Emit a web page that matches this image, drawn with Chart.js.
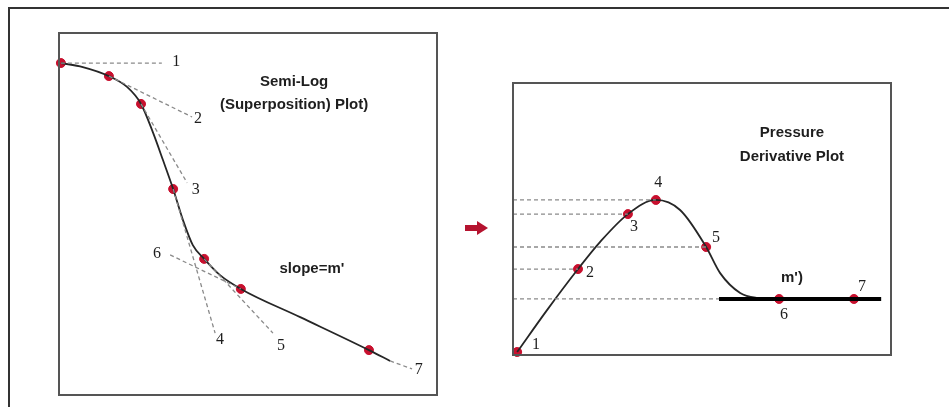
<!DOCTYPE html>
<html>
<head>
<meta charset="utf-8">
<script src="https://cdn.jsdelivr.net/npm/chart.js"></script>
<style>
  html, body { margin:0; padding:0; background:#fff; }
  body { width:949px; height:407px; position:relative; overflow:hidden; }
  #frame { position:absolute; left:8px; top:7px; width:941px; height:400px; border-top:2px solid #333; border-left:2px solid #333; }
  #leftWrap { position:absolute; left:0; top:0; width:470px; height:407px; }
  #rightWrap { position:absolute; left:470px; top:0; width:479px; height:407px; }
  #arrow { position:absolute; left:465px; top:222px; width:24px; height:12px; }
  #arrow .shaft { position:absolute; left:0; top:3px; width:13px; height:6px; background:#b5132f; }
  #arrow .head { position:absolute; left:12px; top:-1px; width:0; height:0; border-top:7px solid transparent; border-bottom:7px solid transparent; border-left:11px solid #b5132f; }
</style>
</head>
<body>
<div id="frame"></div>
<div id="leftWrap"><canvas id="semiLogChart" width="470" height="407"></canvas></div>
<div id="arrow"><div class="shaft"></div><div class="head"></div></div>
<div id="rightWrap"><canvas id="derivChart" width="479" height="407"></canvas></div>
<script>
// ---- semi-log (superposition) plot ----
const semiLogX = [0.5, 6.3, 13.2, 18.0, 21.7, 24.9, 27.5, 30.2, 32.8, 35.4, 38.4, 42.6, 48.1, 63.8, 82.0, 87.6];
const semiLogY = [91.7, 90.6, 88.1, 85.1, 80.4, 72.4, 64.9, 56.9, 48.3, 41.4, 37.6, 33.1, 29.3, 21.5, 12.4, 9.4];
const semiLogMarkX = [0.5, 13.2, 21.7, 30.2, 38.4, 48.1, 82.0];
const semiLogMarkY = [91.7, 88.1, 80.4, 56.9, 37.6, 29.3, 12.4];
// tangent segments: x1, y1, x2, y2
const semiLogTangents = [
    [0.5, 91.7, 27.2, 91.7],
    [13.2, 88.1, 35.2, 76.8],
    [21.7, 80.4, 33.9, 58.6],
    [30.2, 56.9, 41.3, 17.1],
    [38.4, 37.6, 56.6, 17.1],
    [29.4, 38.7, 48.1, 29.3],
    [87.6, 9.4, 93.4, 7.2]
];
const semiLogLabels = ["1", "2", "3", "4", "5", "6", "7"];
const semiLogLabelX = [31.0, 36.8, 36.2, 42.6, 58.7, 25.9, 95.2];
const semiLogLabelY = [92.0, 76.2, 56.6, 15.2, 13.5, 39.0, 6.9];

// ---- pressure derivative plot ----
const derivX = [1.1, 9.0, 17.2, 23.0, 30.4, 37.8, 44.2, 51.1, 54.8, 60.1, 64.6, 70.4];
const derivY = [1.1, 16.5, 31.6, 41.5, 51.8, 57.0, 53.3, 39.7, 30.1, 22.8, 21.0, 20.6];
const derivMarkX = [1.1, 17.2, 30.4, 37.8, 51.1, 70.4, 90.2];
const derivMarkY = [1.1, 31.6, 51.8, 57.0, 39.7, 20.6, 20.6];
const derivLevels = [57.0, 51.8, 39.7, 31.6, 20.6];
const derivLevelEnds = [37.8, 30.4, 51.1, 17.2, 54.5];
const stableX = [54.5, 97.4];
const stableY = [20.6, 20.6];
const derivLabels = ["1", "2", "3", "4", "5", "6", "7"];
const derivLabelX = [6.1, 20.4, 32.0, 38.4, 53.7, 71.7, 92.3];
const derivLabelY = [3.7, 30.1, 47.1, 63.2, 43.0, 14.7, 25.0];

const RED = "#c8102e";
const SERIF = "16px 'Liberation Serif', 'DejaVu Serif', serif";
const SANS_BOLD = "bold 15px 'Liberation Sans', Arial, sans-serif";

function toPoints(xs, ys){
    return xs.map((x, i) => ({x, y: ys[i]}));
}

function dashedSeg(data){
    return {
        type:"line",
        data,
        borderColor:"#8a8a8a",
        borderWidth:1.3,
        borderDash:[4,3],
        pointRadius:0,
        fill:false,
        clip:false
    };
}

// draws the panel box and text items on top of the chart
function panelPlugin(items){
    return {
        id:"panelText",
        afterDraw(chart){
            const {ctx, chartArea, scales} = chart;
            ctx.save();
            ctx.strokeStyle = "#555";
            ctx.lineWidth = 2;
            ctx.strokeRect(chartArea.left, chartArea.top, chartArea.right - chartArea.left, chartArea.bottom - chartArea.top);
            ctx.fillStyle = "#1e1e1e";
            ctx.textAlign = "center";
            ctx.textBaseline = "middle";
            items.forEach((it) => {
                ctx.font = it.font;
                ctx.fillText(it.text, scales.x.getPixelForValue(it.x), scales.y.getPixelForValue(it.y));
            });
            ctx.restore();
        }
    };
}

function baseOptions(padding){
    return {
        responsive:false,
        animation:false,
        layout:{ padding },
        plugins:{ legend:{display:false}, tooltip:{enabled:false} },
        scales:{
            x:{ type:"linear", min:0, max:100, display:false },
            y:{ type:"linear", min:0, max:100, display:false }
        }
    };
}

const leftItems = semiLogLabels.map((t, i) => ({text:t, x:semiLogLabelX[i], y:semiLogLabelY[i], font:SERIF}));
leftItems.push({text:"Semi-Log", x:62.2, y:86.5, font:SANS_BOLD});
leftItems.push({text:"(Superposition) Plot)", x:62.2, y:80.1, font:SANS_BOLD});
leftItems.push({text:"slope=m'", x:66.9, y:34.8, font:SANS_BOLD});

new Chart(document.getElementById("semiLogChart").getContext("2d"), {
    type:"scatter",
    data:{
        datasets:[
            ...semiLogTangents.map((s) => dashedSeg([{x:s[0], y:s[1]}, {x:s[2], y:s[3]}])),
            {
                type:"line",
                data:toPoints(semiLogX, semiLogY),
                borderColor:"#262626",
                borderWidth:1.8,
                cubicInterpolationMode:"monotone",
                pointRadius:0,
                fill:false,
                clip:false
            },
            {
                data:toPoints(semiLogMarkX, semiLogMarkY),
                backgroundColor:RED,
                borderColor:RED,
                pointRadius:4.5,
                clip:false
            }
        ]
    },
    options:baseOptions({left:59, top:33, right:33, bottom:12}),
    plugins:[panelPlugin(leftItems)]
});

const rightItems = derivLabels.map((t, i) => ({text:t, x:derivLabelX[i], y:derivLabelY[i], font:SERIF}));
rightItems.push({text:"Pressure", x:73.8, y:81.6, font:SANS_BOLD});
rightItems.push({text:"Derivative Plot", x:73.8, y:72.8, font:SANS_BOLD});
rightItems.push({text:"m')", x:73.8, y:28.3, font:SANS_BOLD});

new Chart(document.getElementById("derivChart").getContext("2d"), {
    type:"scatter",
    data:{
        datasets:[
            ...derivLevels.map((lv, i) => dashedSeg([{x:0, y:lv}, {x:derivLevelEnds[i], y:lv}])),
            {
                type:"line",
                data:toPoints(stableX, stableY),
                borderColor:"#000",
                borderWidth:4,
                pointRadius:0,
                fill:false,
                clip:false
            },
            {
                type:"line",
                data:toPoints(derivX, derivY),
                borderColor:"#262626",
                borderWidth:1.8,
                cubicInterpolationMode:"monotone",
                pointRadius:0,
                fill:false,
                clip:false
            },
            {
                data:toPoints(derivMarkX, derivMarkY),
                backgroundColor:RED,
                borderColor:RED,
                pointRadius:4.5,
                clip:false
            }
        ]
    },
    options:baseOptions({left:43, top:83, right:58, bottom:52}),
    plugins:[panelPlugin(rightItems)]
});
</script>
</body>
</html>
